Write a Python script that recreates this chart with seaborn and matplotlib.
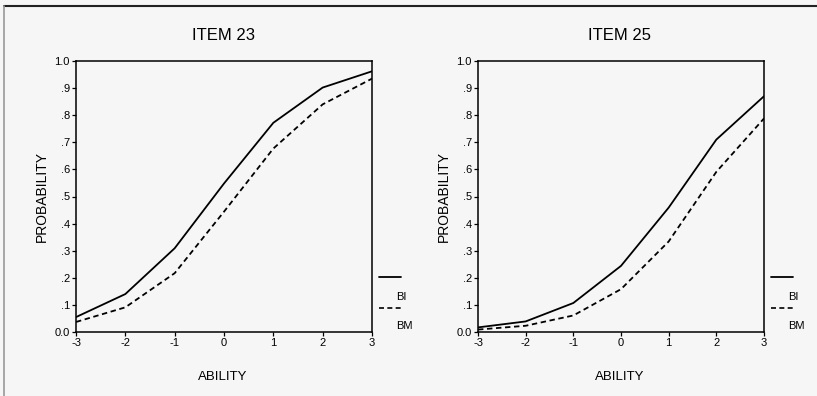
import numpy as np
import pandas as pd
import matplotlib
matplotlib.use("Agg")
import matplotlib.pyplot as plt
import seaborn as sns
from matplotlib.lines import Line2D

ability = [-3, -2, -1, 0, 1, 2, 3]

# item 23
item23_bi = [0.055, 0.14, 0.309, 0.548, 0.772, 0.902, 0.962]
item23_bm = [0.037, 0.091, 0.217, 0.444, 0.677, 0.840, 0.935]
# item 25
item25_bi = [0.017, 0.039, 0.107, 0.244, 0.459, 0.710, 0.870]
item25_bm = [0.009, 0.023, 0.061, 0.158, 0.334, 0.591, 0.788]

groups = ["BI", "BM"]
y_ticks = [0.0, 0.1, 0.2, 0.3, 0.4, 0.5, 0.6, 0.7, 0.8, 0.9, 1.0]
y_labels = ["0.0", ".1", ".2", ".3", ".4", ".5", ".6", ".7", ".8", ".9", "1.0"]

sns.set_style("ticks")
plt.rcParams["font.family"] = ["Liberation Sans", "DejaVu Sans"]
plt.rcParams["text.color"] = "black"
plt.rcParams["xtick.color"] = "black"
plt.rcParams["ytick.color"] = "black"

W, H = 817, 396
fig = plt.figure(figsize=(8.17, 3.96), dpi=100)
fig.patch.set_facecolor("#f6f6f6")


def make_df(bi, bm):
    return pd.DataFrame({
        "ABILITY": ability * 2,
        "PROBABILITY": bi + bm,
        "group": ["BI"] * len(bi) + ["BM"] * len(bm),
    })


def panel(x0, x1, title, bi, bm, tx, lx):
    ax = fig.add_axes([x0 / W, 1 - 332 / H, (x1 - x0) / W, (332 - 61) / H])
    ax.set_facecolor("none")
    df = make_df(bi, bm)
    sns.lineplot(data=df, x="ABILITY", y="PROBABILITY", style="group",
                 style_order=groups, dashes={"BI": "", "BM": (3, 2)},
                 color="black", linewidth=1.3, legend=False, ax=ax)
    ax.set_xlim(-3, 3)
    ax.set_ylim(0, 1)
    ax.set_xticks(ability)
    ax.set_xticklabels([str(a) for a in ability])
    ax.set_yticks(y_ticks)
    ax.set_yticklabels(y_labels)
    ax.tick_params(length=3, width=0.9, labelsize=8, pad=1.5, color="black",
                   labelcolor="black")
    for s in ax.spines.values():
        s.set_visible(True)
        s.set_linewidth(1.1)
        s.set_color("black")
    ax.set_xlabel("")
    ax.set_ylabel("")
    fig.text(tx / W, 1 - 36 / H, title, ha="center", va="center", fontsize=12)
    fig.text(tx / W, 1 - 377 / H, "ABILITY", ha="center", va="center", fontsize=9.5)
    fig.text((x0 - 34) / W, 1 - 197 / H, "PROBABILITY", ha="center", va="center",
             rotation=90, fontsize=10)
    # legend: line above label
    fig.add_artist(Line2D([lx / W, (lx + 22) / W], [1 - 277 / H, 1 - 277 / H],
                          color="black", linewidth=1.3))
    fig.add_artist(Line2D([lx / W, (lx + 22) / W], [1 - 308 / H, 1 - 308 / H],
                          color="black", linewidth=1.2, dashes=(3, 2)))
    fig.text((lx + 22) / W, 1 - 297 / H, groups[0], ha="center", va="center", fontsize=8)
    fig.text((lx + 25) / W, 1 - 326 / H, groups[1], ha="center", va="center", fontsize=8)
    return ax


panel(76, 372, "ITEM 23", item23_bi, item23_bm, 223, 379)
panel(478, 764, "ITEM 25", item25_bi, item25_bm, 620, 771)

# page frame
fig.add_artist(Line2D([4 / W, 1], [1 - 6 / H, 1 - 6 / H], color="#222222", linewidth=1.5))
fig.add_artist(Line2D([4 / W, 4 / W], [0, 1 - 6 / H], color="#999999", linewidth=1.2))

fig.savefig("out.png", dpi=100, facecolor=fig.get_facecolor())
